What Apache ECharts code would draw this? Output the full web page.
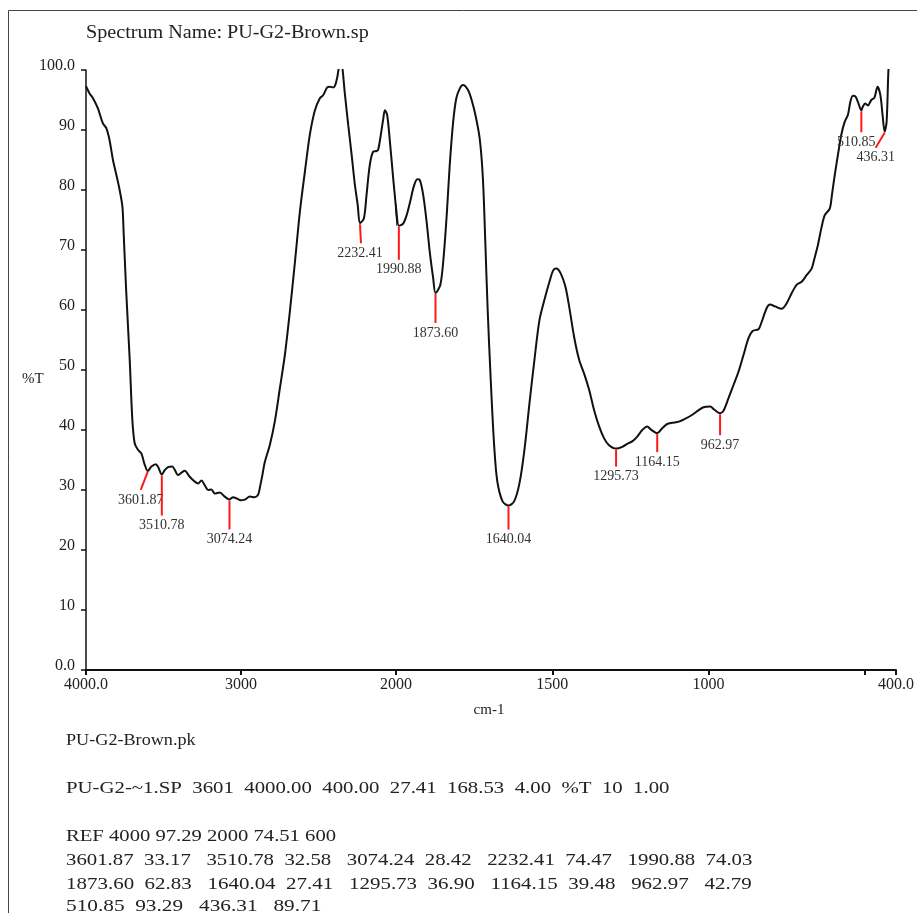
<!DOCTYPE html>
<html>
<head>
<meta charset="utf-8">
<script src="https://cdn.jsdelivr.net/npm/echarts@6/dist/echarts.min.js"></script>
<style>
html,body{margin:0;padding:0;background:#fff;}
#chart{width:917px;height:913px;}
</style>
</head>
<body>
<div id="chart"></div>
<script>
// ---- data ----
const wavenumbers = [4000,3977,3955,3923,3891,3869,3848,3826,3804,3783,3765,3757,3740,3718,3701,3686,3665,3643,3621,3601.87,3578,3550,3536,3510.78,3492,3471,3443,3428,3406,3384,3363,3331,3298,3277,3255,3234,3212,3191,3169,3137,3105,3074.24,3051,3029,3001,2975,2943,2911,2890,2879,2862,2846,2814,2782,2749,2717,2685,2652,2620,2588,2556,2523,2491,2470,2444,2426,2405,2388,2370,2362,2352,2344,2329,2308,2286,2265,2247,2232.41,2207,2190,2169,2147,2125,2115,2098,2082,2072,2057,2039,2018,2000,1990.88,1977,1966,1955,1943,1932,1924,1913,1902,1892,1881,1873.60,1858,1847,1837,1828,1817,1807,1796,1786,1770,1758,1745,1732,1722,1714,1707,1697,1686,1676,1659,1640.04,1622,1605,1589,1573,1557,1541,1525,1509,1497,1487,1473,1458,1446,1430,1414,1398,1382,1366,1350,1334,1319,1295.73,1276,1260,1244,1228,1212,1196,1185,1164.15,1148,1132,1116,1095,1074,1053,1037,1016,994,984,962.97,952,936,920,904,888,872,859,840,830,814,803,787,766,750,734,718,702,686,670,661,650,639,628,612,605,596,586,575,564,554,546,538,530,522,510.85,506,499,490,479,469,459,450,443,436.31,430,424,418];
const transmittance = [97.29,96.1,95.3,93.6,91.1,90.3,88.3,85.0,82.5,80.0,77.2,72.8,62.8,51.7,41.7,37.8,36.7,36.1,34.2,33.17,33.9,34.3,33.9,32.58,33.3,33.8,33.9,33.4,32.5,32.9,33.2,32.2,31.4,31.1,31.6,30.8,30.0,30.1,29.4,29.6,28.9,28.42,28.8,28.6,28.3,28.4,28.9,28.8,29.2,30.3,32.5,34.7,37.5,41.4,47.0,52.5,59.7,68.0,76.4,83.0,89.2,93.3,95.3,95.8,97.1,97.2,97.1,97.8,100.2,103,101.5,100,95.8,90.8,85.8,80.8,77.5,74.47,75.3,79.2,84.2,86.4,86.5,86.7,89.2,91.9,93.3,92.5,88.0,81.9,77.0,74.03,74.4,75.8,78.0,80.6,81.8,81.7,79.2,74.7,69.7,65.3,62.83,64.2,69.2,76.4,84.2,91.4,95.3,96.9,97.5,96.7,95.0,92.3,88.5,82.0,71.0,60.5,48.5,37.5,31.5,28.1,27.41,28.1,31.1,36.7,44.4,51.7,58.3,61.7,64.7,66.6,66.9,66.1,63.9,60.6,55.5,51.7,49.4,46.7,43.3,40.6,38.6,37.5,36.90,37.2,37.7,38.1,38.9,40.0,40.6,40.1,39.48,40.3,41.0,41.2,41.4,41.9,42.5,43.1,43.8,43.9,43.5,42.79,43.2,45.3,47.5,49.7,52.5,55.3,56.5,56.8,58.0,60.3,60.9,60.6,60.2,61.1,62.8,64.2,64.7,65.8,66.9,68.6,70.8,73.6,75.8,76.9,79.2,82.5,85.8,89.2,91.4,92.5,94.7,95.7,95.6,94.7,93.29,93.9,94.4,94.1,95.0,95.4,97.2,95.8,92.5,89.71,91.4,100.2,104];

const peakWavenumbers = [3601.87,3510.78,3074.24,2232.41,1990.88,1873.60,1640.04,1295.73,1164.15,962.97,510.85,436.31];
const peakValues = [33.17,32.58,28.42,74.47,74.03,62.83,27.41,36.90,39.48,42.79,93.29,89.71];

const xTicksLow = [2000,1500,1000,500,400];
const xLabelsLow = [2000,1500,1000,400];

const titleText = 'Spectrum Name: PU-G2-Brown.sp';
const yAxisTitle = '%T';
const xAxisTitle = 'cm-1';
const footerLines = [
  'PU-G2-Brown.pk',
  'PU-G2-~1.SP  3601  4000.00  400.00  27.41  168.53  4.00  %T  10  1.00',
  'REF 4000 97.29 2000 74.51 600',
  '3601.87  33.17   3510.78  32.58   3074.24  28.42   2232.41  74.47   1990.88  74.03',
  '1873.60  62.83   1640.04  27.41   1295.73  36.90   1164.15  39.48   962.97   42.79',
  '510.85  93.29   436.31   89.71'
];

// ---- layout (not data) ----
// [line end dx, line end dy, label dx]
const peakLabelLayout = [[-7,19,0],[0,41,0],[0,30,0],[1,20,-1],[0,34,0],[0,30,0],[0,24,0],[0,18,0],[0,19,0],[0,22,0],[0,22,-5],[-9,16,0]];
const footerY = [741, 789, 837, 861, 885, 907];
const footerScale = [1.135, 1.3, 1.29, 1.3, 1.31, 1.33];

const SERIF = '"Liberation Serif", "Times New Roman", serif';

const highPts = [], lowPts = [];
for (let i = 0; i < wavenumbers.length; i++) {
  if (wavenumbers[i] >= 2000) highPts.push([wavenumbers[i], transmittance[i]]);
  if (wavenumbers[i] <= 2000) lowPts.push([wavenumbers[i], transmittance[i]]);
}
const iBreak = wavenumbers.indexOf(2000);
highPts.push([wavenumbers[iBreak+1], transmittance[iBreak+1]]);
lowPts.unshift([wavenumbers[iBreak-1], transmittance[iBreak-1]]);

const peakHigh = [], peakLow = [];
peakWavenumbers.forEach((w, i) => {
  (w >= 2000 ? peakHigh : peakLow).push([w, peakValues[i], i]);
});

function renderPeak(params, api) {
  const i = api.value(2);
  const p = api.coord([api.value(0), api.value(1)]);
  const l = peakLabelLayout[i];
  const ex = p[0] + l[0], ey = p[1] + l[1];
  return {
    type: 'group',
    children: [
      {type: 'line', shape: {x1: p[0], y1: p[1] + 1, x2: ex, y2: ey}, style: {stroke: '#ff1a1a', lineWidth: 2}},
      {type: 'text', x: ex + l[2], y: ey + 3,
        style: {text: peakWavenumbers[i].toFixed(2), font: '14px ' + SERIF, fill: '#333', textAlign: 'center', textVerticalAlign: 'top'}}
    ]
  };
}

const axisLabelStyle = {color: '#222', fontSize: 16, fontFamily: SERIF};

const chart = echarts.init(document.getElementById('chart'), null, {renderer: 'canvas'});
chart.setOption({
  animation: false,
  backgroundColor: '#fff',
  grid: [
    {left: 86, top: 70, width: 310, height: 600},
    {left: 396, top: 70, width: 502, height: 600}
  ],
  xAxis: [
    {gridIndex: 0, type: 'value', min: 2000, max: 4000, inverse: true, interval: 1000,
      axisLine: {lineStyle: {color: '#111', width: 2}},
      axisTick: {length: 5, lineStyle: {color: '#111', width: 2}},
      splitLine: {show: false},
      axisLabel: Object.assign({margin: 7, formatter: v => v === 4000 ? '4000.0' : (v === 2000 ? '' : String(v))}, axisLabelStyle)},
    {gridIndex: 1, type: 'value', min: 400, max: 2000, inverse: true,
      axisLine: {lineStyle: {color: '#111', width: 2}},
      axisTick: {length: 5, customValues: xTicksLow, lineStyle: {color: '#111', width: 2}},
      splitLine: {show: false},
      axisLabel: Object.assign({margin: 7, customValues: xLabelsLow, formatter: v => v === 400 ? '400.0' : String(v)}, axisLabelStyle)}
  ],
  yAxis: [
    {gridIndex: 0, type: 'value', min: 0, max: 100, interval: 10,
      axisLine: {show: true, lineStyle: {color: '#111', width: 1.5}},
      axisTick: {show: true, length: 5, lineStyle: {color: '#111', width: 1.5}},
      splitLine: {show: false},
      axisLabel: Object.assign({margin: 11, verticalAlign: 'bottom', lineHeight: 9, formatter: v => v === 100 ? '100.0' : (v === 0 ? '0.0' : String(v))}, axisLabelStyle)},
    {gridIndex: 1, type: 'value', min: 0, max: 100, show: false, splitLine: {show: false}}
  ],
  series: [
    {type: 'line', xAxisIndex: 0, yAxisIndex: 0, data: highPts, showSymbol: false, smooth: 0.3, clip: true,
      lineStyle: {color: '#111', width: 2}},
    {type: 'line', xAxisIndex: 1, yAxisIndex: 1, data: lowPts, showSymbol: false, smooth: 0.3, clip: true,
      lineStyle: {color: '#111', width: 2}},
    {type: 'custom', xAxisIndex: 0, yAxisIndex: 0, data: peakHigh, renderItem: renderPeak, clip: false, z: 5},
    {type: 'custom', xAxisIndex: 1, yAxisIndex: 1, data: peakLow, renderItem: renderPeak, clip: false, z: 5}
  ],
  graphic: [
    {type: 'rect', shape: {x: 8.5, y: 10.5, width: 1000, height: 1000}, style: {fill: null, stroke: '#444', lineWidth: 1}, silent: true, z: 0},
    {type: 'text', x: 86, y: 33, scaleX: 1.12, style: {text: titleText, font: '18px ' + SERIF, fill: '#222', textAlign: 'left', textVerticalAlign: 'middle'}},
    {type: 'text', x: 22, y: 379, style: {text: yAxisTitle, font: '15px ' + SERIF, fill: '#222', textAlign: 'left', textVerticalAlign: 'middle'}},
    {type: 'text', x: 489, y: 710, style: {text: xAxisTitle, font: '15px ' + SERIF, fill: '#222', textAlign: 'center', textVerticalAlign: 'middle'}}
  ].concat(footerLines.map((t, i) => ({
    type: 'text', x: 66, y: footerY[i], scaleX: footerScale[i],
    style: {text: t, font: '16px ' + SERIF, fill: '#222', textAlign: 'left', textVerticalAlign: 'middle'}
  })))
});
</script>
</body>
</html>
